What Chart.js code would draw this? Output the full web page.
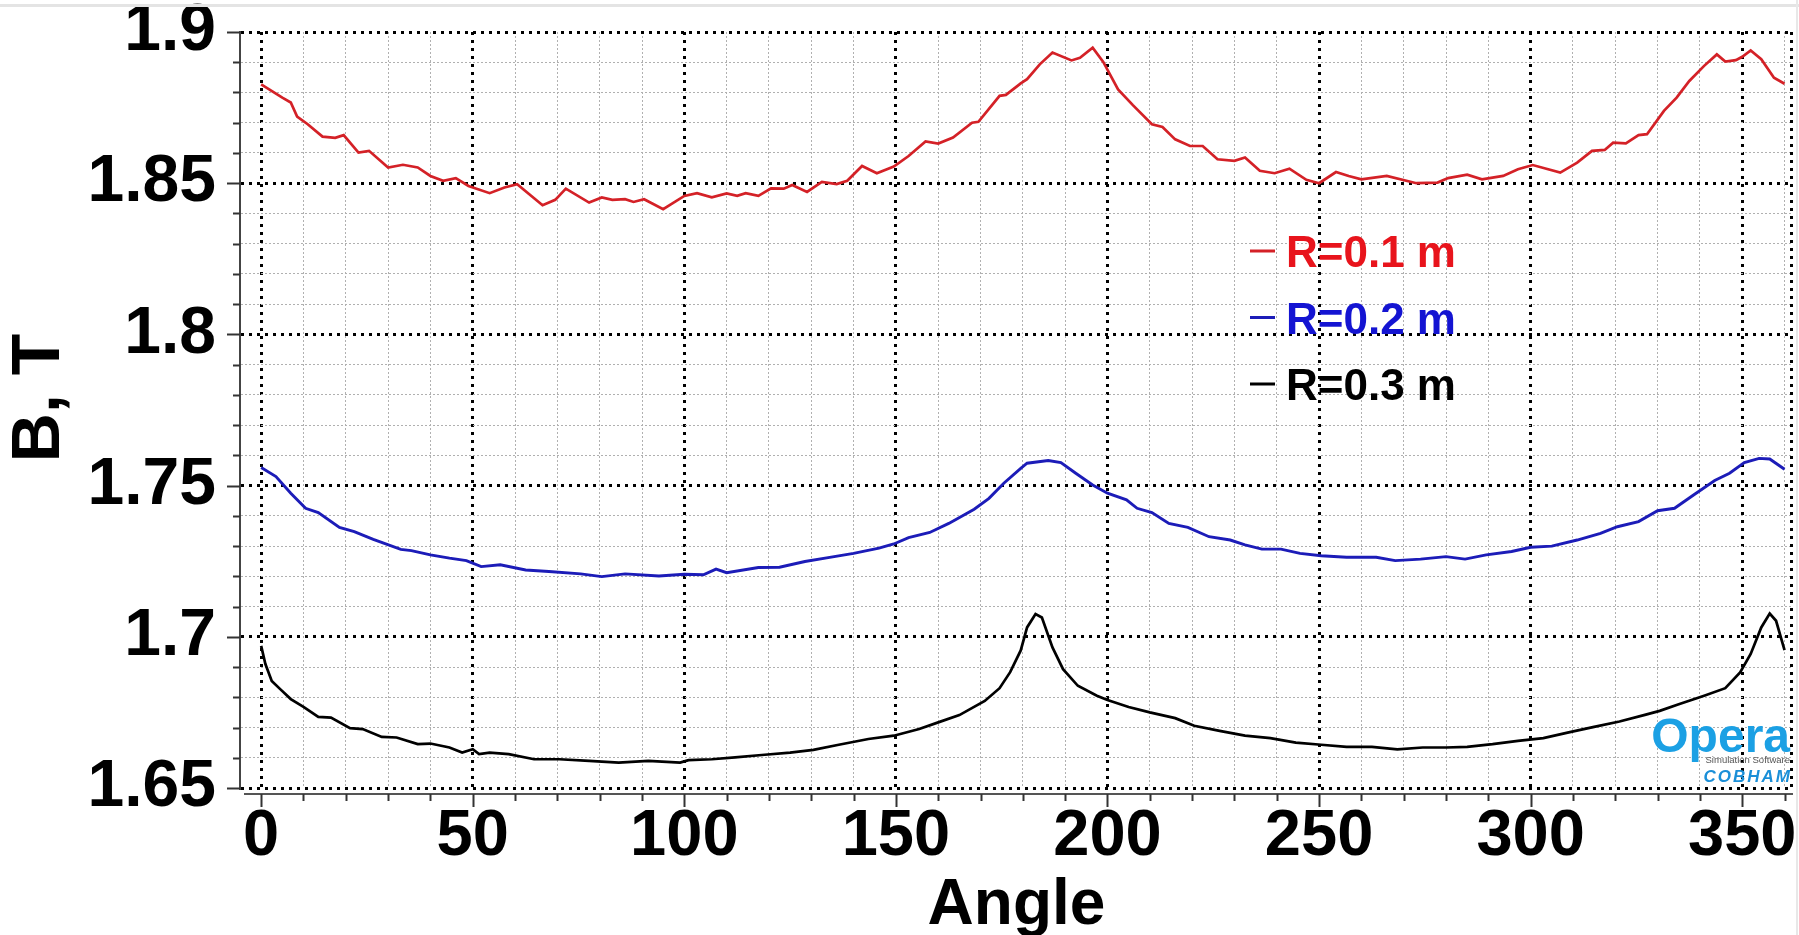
<!DOCTYPE html>
<html>
<head>
<meta charset="utf-8">
<title>B vs Angle</title>
<script src="https://cdn.jsdelivr.net/npm/chart.js@4.4.0/dist/chart.umd.min.js"></script>
<style>
  html, body { margin: 0; padding: 0; background: #fff; }
  #wrap { position: relative; width: 1799px; height: 935px; }
  #topLine { position: absolute; left: 0; top: 4px; width: 1799px; height: 3px; background: #e4e4e4; }
  #rightLine { position: absolute; left: 1796px; top: 0; width: 2px; height: 935px; background: #e8e8e8; }
</style>
</head>
<body>
<div id="wrap">
  <canvas id="chart" width="1799" height="935"></canvas>
  <div id="topLine"></div>
  <div id="rightLine"></div>
</div>
<script>
// B field along the circle (angle in degrees, B in T)
const redAngle = [
  0, 5, 7, 8.5, 11, 14.5, 17.5, 19.5, 23, 25.5,
  30, 33.5, 37, 40, 43, 46, 49, 54, 57.5, 60.5,
  66.5, 69.5, 72, 77.5, 80.5, 83, 86, 88, 90.5, 95,
  100, 103, 106.5, 110, 112.5, 114.5, 117.5, 120.5, 123.5, 125.5,
  129, 132.5, 136, 138.5, 142, 145.5, 149.5, 153, 157, 160,
  163.5, 168, 169.5, 174.5, 176, 179.5, 181, 184, 187, 191.5,
  193.5, 196.5, 199, 202.5, 206, 210.5, 213, 216, 219.5, 222.5,
  226, 230, 232.5, 236, 239.5, 243, 247, 250, 254, 257,
  260, 266, 273, 278, 280.5, 285, 288.5, 293.5, 297, 300.5,
  307, 311, 314.5, 317.5, 319.5, 322.5, 325.5, 327.5, 331.5, 334.5,
  337.5, 341, 344, 346, 348.5, 350, 352, 354.5, 357.5, 360
];
const redB = [
  1.8827, 1.8783, 1.8767, 1.872, 1.8695, 1.8654, 1.865, 1.8659, 1.8601, 1.8607,
  1.8552, 1.8561, 1.8552, 1.8524, 1.8508, 1.8517, 1.8491, 1.8467, 1.8486, 1.8497,
  1.8427, 1.8445, 1.8482, 1.8436, 1.8453, 1.8445, 1.8447, 1.8438, 1.8447, 1.8414,
  1.8458, 1.8467, 1.8453, 1.8466, 1.8458, 1.8467, 1.8458, 1.8483, 1.8482, 1.8494,
  1.8471, 1.8504, 1.8497, 1.8508, 1.8557, 1.8533, 1.8555, 1.859, 1.8638, 1.8631,
  1.8651, 1.87, 1.8703, 1.8789, 1.8792, 1.883, 1.8844, 1.8893, 1.8932, 1.8906,
  1.8915, 1.8948, 1.8901, 1.881, 1.8758, 1.8695, 1.8686, 1.8645, 1.8623, 1.8623,
  1.8579, 1.8574, 1.8585, 1.8541, 1.8533, 1.8548, 1.8511, 1.85, 1.8537, 1.8524,
  1.8513, 1.8524, 1.85, 1.8502, 1.8517, 1.8528, 1.8513, 1.8524, 1.8546, 1.856,
  1.8535, 1.8568, 1.8607, 1.861, 1.8634, 1.8632, 1.8659, 1.8662, 1.8739, 1.8783,
  1.8838, 1.8888, 1.8926, 1.8902, 1.8907, 1.8918, 1.8939, 1.891, 1.8849, 1.8829
];

const blueAngle = [
  0, 3.5, 7, 10.5, 13.5, 18.5, 22, 26.5, 33, 35.5,
  40, 44.5, 48.5, 52, 56.5, 62.5, 68, 75.5, 80.5, 86,
  94, 100, 104.5, 107.5, 110, 117.5, 122.5, 128.5, 134, 140,
  146, 149.5, 153, 158, 162.5, 168.5, 172, 175.5, 179.5, 181,
  186, 189, 192.5, 196.5, 200, 204.5, 207, 210.5, 214.5, 219,
  224, 229, 232.5, 236.5, 241, 245.5, 250.5, 256.5, 263.5, 268,
  274, 280, 284.5, 289.5, 295.5, 300, 305, 311, 316.5, 320.5,
  325.5, 330, 334, 338.5, 343.5, 347, 350.5, 354, 356.5, 360
];
const blueB = [
  1.756, 1.753, 1.7475, 1.7425, 1.7411, 1.7362, 1.7348, 1.7322, 1.7289, 1.7285,
  1.7271, 1.726, 1.7252, 1.7232, 1.7238, 1.7221, 1.7216, 1.7208, 1.7199, 1.7208,
  1.7201, 1.7207, 1.7205, 1.7224, 1.7212, 1.7229, 1.723, 1.7249, 1.7262, 1.7276,
  1.7293, 1.7307, 1.7328, 1.7345, 1.7375, 1.7422, 1.7458, 1.7508, 1.7557, 1.7574,
  1.7583, 1.7576, 1.7541, 1.7502, 1.7475, 1.7453, 1.7425, 1.7411, 1.7375, 1.7362,
  1.7331, 1.732, 1.7304, 1.729, 1.729, 1.7276, 1.7268, 1.7263, 1.7263, 1.7252,
  1.7257, 1.7265, 1.7257, 1.7271, 1.7282, 1.7296, 1.73, 1.732, 1.7342, 1.7364,
  1.7381, 1.7417, 1.7425, 1.7469, 1.7517, 1.7541, 1.7576, 1.759, 1.7588, 1.7554
];

const blackAngle = [
  0, 1, 2.5, 4.5, 7, 10, 13.5, 16.5, 21, 24,
  28.5, 32, 37, 40, 44.5, 47.5, 50, 51.5, 54, 58.5,
  64.5, 70.5, 77.5, 84.5, 91.5, 99, 101, 106.5, 112, 119,
  125, 130.5, 136.5, 143.5, 149.5, 155.5, 160, 165, 171, 174.5,
  177, 179.5, 181, 183, 184.5, 187, 189.5, 193, 197.5, 200,
  205, 210, 216, 220.5, 226.5, 232.5, 238.5, 244.5, 250.5, 256.5,
  262.5, 268.5, 274.5, 280, 285, 291, 297, 303, 309, 315,
  321, 327, 330.5, 335, 341, 346, 349.5, 352, 354.5, 356.5,
  358, 360
];
const blackB = [
  1.697, 1.691, 1.6854, 1.6827, 1.6794, 1.6768, 1.6735, 1.6733, 1.6698, 1.6695,
  1.6669, 1.6667, 1.6645, 1.6647, 1.6634, 1.6617, 1.6628, 1.6612, 1.6617, 1.6612,
  1.6595, 1.6595, 1.659, 1.6584, 1.659, 1.6584, 1.6592, 1.6595, 1.6601, 1.661,
  1.6617, 1.6626, 1.6643, 1.6662, 1.6673, 1.6695, 1.6717, 1.6741, 1.6788, 1.683,
  1.6883, 1.6955, 1.7031, 1.7075, 1.7064, 1.6965, 1.6893, 1.6838, 1.6805, 1.6791,
  1.6768, 1.675, 1.6731, 1.6706, 1.6689, 1.6673, 1.6665, 1.665, 1.6643, 1.6636,
  1.6636, 1.6628, 1.6634, 1.6634, 1.6636, 1.6645, 1.6656, 1.6665, 1.6684, 1.6702,
  1.672, 1.6742, 1.6755, 1.6777, 1.6805, 1.683, 1.6882, 1.6943, 1.7031, 1.7077,
  1.7053, 1.6956
];

const seriesLabels = ['R=0.1 m', 'R=0.2 m', 'R=0.3 m'];

// grid / tick positions: minor every 10 deg and 0.01 T, labelled every 50 deg and 0.05 T
const xTicks = [0, 10, 20, 30, 40, 50, 60, 70, 80, 90, 100, 110, 120, 130, 140, 150, 160, 170, 180,
  190, 200, 210, 220, 230, 240, 250, 260, 270, 280, 290, 300, 310, 320, 330, 340, 350, 360];
const yTicks = [1.65, 1.66, 1.67, 1.68, 1.69, 1.7, 1.71, 1.72, 1.73, 1.74, 1.75, 1.76, 1.77,
  1.78, 1.79, 1.8, 1.81, 1.82, 1.83, 1.84, 1.85, 1.86, 1.87, 1.88, 1.89, 1.9];

const lineColors = ['#d42127', '#1c1cb8', '#000000'];
const textColors = ['#e8141c', '#1414d2', '#000000'];
const FONT = '"Liberation Sans", Arial, sans-serif';

const isMajorX = v => v % 50 === 0;
const isMajorY = v => Math.abs(v * 20 - Math.round(v * 20)) < 1e-6;

function toPoints(xs, ys) {
  return xs.map((a, i) => ({ x: a, y: ys[i] }));
}

// frame bits the library has no option for: separate x axis line, tick marks, dotted right edge
const framePlugin = {
  id: 'frame',
  afterDatasetsDraw(chart) {
    const { ctx, chartArea: a, scales: { x, y } } = chart;
    ctx.save();
    ctx.strokeStyle = '#000';
    ctx.lineWidth = 3;
    ctx.setLineDash([3, 5]);
    ctx.beginPath();
    ctx.moveTo(a.right - 1.5, a.top);
    ctx.lineTo(a.right - 1.5, a.bottom);
    ctx.stroke();
    ctx.setLineDash([]);

    const axisY = a.bottom + 6;
    ctx.strokeStyle = '#555';
    ctx.lineWidth = 2;
    ctx.beginPath();
    ctx.moveTo(a.left + 4, axisY);
    ctx.lineTo(a.right, axisY);
    ctx.stroke();

    ctx.strokeStyle = '#333';
    ctx.lineWidth = 2;
    xTicks.forEach(v => {
      const px = Math.round(x.getPixelForValue(v)) + 0.5;
      const len = isMajorX(v) ? 13 : 7;
      ctx.beginPath();
      ctx.moveTo(px, axisY);
      ctx.lineTo(px, axisY + len);
      ctx.stroke();
    });
    yTicks.forEach(v => {
      const py = Math.round(y.getPixelForValue(v)) + 0.5;
      const len = isMajorY(v) ? 13 : 7;
      ctx.beginPath();
      ctx.moveTo(a.left - len, py);
      ctx.lineTo(a.left, py);
      ctx.stroke();
    });
    ctx.restore();
  }
};

// legend sits inside the plot, plus the y title and the Opera/Cobham mark bottom right
const legendPlugin = {
  id: 'inlineLegend',
  afterDraw(chart) {
    const { ctx, chartArea: a } = chart;
    ctx.save();
    ctx.textBaseline = 'middle';
    ctx.font = 'bold 44px ' + FONT;
    seriesLabels.forEach((label, i) => {
      const rowY = a.top + 223 + i * 66.5;
      ctx.strokeStyle = lineColors[i];
      ctx.lineWidth = 3;
      ctx.beginPath();
      ctx.moveTo(a.left + 1010, rowY - 4);
      ctx.lineTo(a.left + 1035, rowY - 4);
      ctx.stroke();
      ctx.fillStyle = textColors[i];
      ctx.textAlign = 'left';
      ctx.fillText(label, a.left + 1046, rowY);
    });

    ctx.save();
    ctx.translate(40, a.top + 366);
    ctx.rotate(-Math.PI / 2);
    ctx.textAlign = 'center';
    ctx.fillStyle = '#000';
    ctx.font = 'bold 68px ' + FONT;
    ctx.fillText('B, T', 0, 0);
    ctx.restore();

    const rx = a.right - 3;
    ctx.textAlign = 'right';
    ctx.textBaseline = 'alphabetic';
    ctx.fillStyle = '#1ba0e4';
    ctx.font = 'bold 48px ' + FONT;
    ctx.fillText('Opera', rx, a.bottom - 36);
    ctx.fillStyle = '#555';
    ctx.font = '9.5px ' + FONT;
    ctx.fillText('Simulation Software', rx, a.bottom - 25);
    ctx.fillStyle = '#1a8fd8';
    ctx.font = 'italic bold 17px ' + FONT;
    ctx.letterSpacing = '2px';
    ctx.fillText('COBHAM', rx + 2, a.bottom - 6);
    ctx.restore();
  }
};

function gridStyle(isMajor) {
  return {
    color: c => (c.tick && isMajor(c.tick.value) ? '#000' : '#b0b0b0'),
    lineWidth: c => (c.tick && isMajor(c.tick.value) ? 3 : 1),
    drawTicks: false
  };
}

new Chart(document.getElementById('chart'), {
  type: 'scatter',
  data: {
    datasets: [
      { label: seriesLabels[0], data: toPoints(redAngle, redB), borderColor: lineColors[0], borderWidth: 2.7 },
      { label: seriesLabels[1], data: toPoints(blueAngle, blueB), borderColor: lineColors[1], borderWidth: 2.9 },
      { label: seriesLabels[2], data: toPoints(blackAngle, blackB), borderColor: lineColors[2], borderWidth: 2.7 }
    ].map(ds => Object.assign(ds, { showLine: true, pointRadius: 0, tension: 0, fill: false }))
  },
  options: {
    responsive: false,
    animation: false,
    events: [],
    layout: { padding: { top: 32, right: 6, left: 0, bottom: 0 } },
    plugins: { legend: { display: false }, tooltip: { enabled: false } },
    scales: {
      x: {
        type: 'linear',
        min: -5,
        max: 362,
        afterBuildTicks: s => { s.ticks = xTicks.map(v => ({ value: v })); },
        afterFit: s => {
          s.height = 147;
          s.paddingLeft = 0;
          s.paddingRight = 0;
        },
        grid: gridStyle(isMajorX),
        border: {
          display: false,
          dash: c => (c.tick ? (isMajorX(c.tick.value) ? [3, 5] : [2, 2]) : [])
        },
        ticks: {
          autoSkip: false,
          maxRotation: 0,
          padding: 17,
          color: '#000',
          font: { family: FONT, size: 65, weight: 'bold', lineHeight: 1 },
          callback: v => (isMajorX(v) ? String(v) : '')
        },
        title: {
          display: true,
          text: 'Angle',
          color: '#000',
          padding: { top: 0, bottom: 0 },
          font: { family: FONT, size: 64, weight: 'bold', lineHeight: 0.9 }
        }
      },
      y: {
        type: 'linear',
        min: 1.65,
        max: 1.9,
        afterBuildTicks: s => { s.ticks = yTicks.map(v => ({ value: v })); },
        afterFit: s => {
          s.width = 240;
          s.paddingTop = 0;
          s.paddingBottom = 0;
        },
        grid: gridStyle(isMajorY),
        border: {
          display: true,
          color: '#444',
          width: 2,
          dash: c => (c.tick ? (isMajorY(c.tick.value) ? [3, 5] : [2, 2]) : [])
        },
        ticks: {
          autoSkip: false,
          padding: 24,
          color: '#000',
          font: { family: FONT, size: 66, weight: 'bold', lineHeight: 0.9 },
          callback: v => (isMajorY(v) ? String(+v.toFixed(2)) : '')
        },
        title: { display: false }
      }
    }
  },
  plugins: [framePlugin, legendPlugin]
});
</script>
</body>
</html>
